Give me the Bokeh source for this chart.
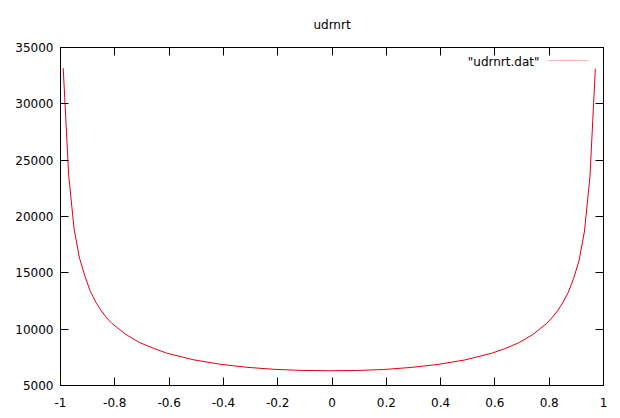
from bokeh.plotting import figure
from bokeh.models import LinearAxis, FixedTicker, Range1d, Label, PolyAnnotation
from bokeh.embed import file_html
from bokeh.resources import INLINE

# ---- data ----
title_text = "udrnrt"
series_name = '"udrnrt.dat"'

x_vals = [-0.99, -0.97, -0.95, -0.93, -0.91, -0.89, -0.87, -0.85, -0.83, -0.81,
          -0.76, -0.71, -0.66, -0.61, -0.51, -0.41, -0.31, -0.21, -0.11, -0.01,
          0.09, 0.19, 0.29, 0.39, 0.49, 0.59, 0.64, 0.69, 0.74, 0.79,
          0.81, 0.83, 0.85, 0.87, 0.89, 0.91, 0.93, 0.95, 0.97]
y_vals = [33170, 23700, 18900, 16300, 14700, 13350, 12400, 11650, 11000, 10500,
          9550, 8820, 8330, 7880, 7280, 6880, 6610, 6430, 6340, 6310,
          6330, 6420, 6600, 6870, 7270, 7880, 8300, 8820, 9530, 10500,
          11000, 11600, 12350, 13250, 14500, 16100, 18700, 23500, 33110]

x_ticks = [-1, -0.8, -0.6, -0.4, -0.2, 0, 0.2, 0.4, 0.6, 0.8, 1]
x_tick_labels = ["-1", "-0.8", "-0.6", "-0.4", "-0.2", "0", "0.2", "0.4", "0.6", "0.8", "1"]
y_ticks = [5000, 10000, 15000, 20000, 25000, 30000, 35000]
y_tick_labels = ["5000", "10000", "15000", "20000", "25000", "30000", "35000"]

FONT = "DejaVu Sans"
FS = "12px"
RED = "#e00010"

p = figure(width=620, height=418,
           x_range=Range1d(-1, 1), y_range=Range1d(5000, 35000),
           output_backend="svg", toolbar_location=None,
           min_border_left=60, min_border_right=17,
           min_border_top=45, min_border_bottom=33)

p.background_fill_color = "white"
p.border_fill_color = "white"
p.outline_line_color = "black"
p.outline_line_width = 1
p.xgrid.visible = False
p.ygrid.visible = False

# title
p.title.text = title_text
p.title.align = "center"
p.title.text_font = FONT
p.title.text_font_size = FS
p.title.text_font_style = "normal"
p.title.text_color = "black"
p.title.standoff = 31

def style_axis(ax, ticks, labels, show_labels, standoff):
    ax.ticker = FixedTicker(ticks=ticks)
    if show_labels:
        ax.major_label_overrides = {t: l for t, l in zip(ticks, labels)}
    else:
        ax.major_label_overrides = {t: "" for t in ticks}
    ax.major_tick_in = 8
    ax.major_tick_out = 0
    ax.minor_tick_in = 0
    ax.minor_tick_out = 0
    ax.axis_line_color = "black"
    ax.major_tick_line_color = "black"
    ax.major_label_text_font = FONT
    ax.major_label_text_font_size = FS
    ax.major_label_text_color = "black"
    ax.major_label_standoff = standoff

style_axis(p.xaxis[0], x_ticks, x_tick_labels, True, 12)
style_axis(p.yaxis[0], y_ticks, y_tick_labels, True, 7)

top_ax = LinearAxis()
style_axis(top_ax, x_ticks, x_tick_labels, False, 0)
p.add_layout(top_ax, "above")
right_ax = LinearAxis()
style_axis(right_ax, y_ticks, y_tick_labels, False, 0)
p.add_layout(right_ax, "right")

# curve
p.line(x_vals, y_vals, line_color=RED, line_width=1)

# gnuplot-style key (text then sample line), placed in screen units
p.add_layout(Label(x=479, y=324, x_units="screen", y_units="screen",
                   text=series_name, text_align="right", text_baseline="middle",
                   text_font=FONT, text_font_size=FS, text_color="black"))
p.add_layout(PolyAnnotation(xs=[488, 528], ys=[325, 325],
                            xs_units="screen", ys_units="screen",
                            line_color=RED, line_width=1,
                            fill_alpha=0))

open("out.html", "w").write(file_html(p, INLINE))
